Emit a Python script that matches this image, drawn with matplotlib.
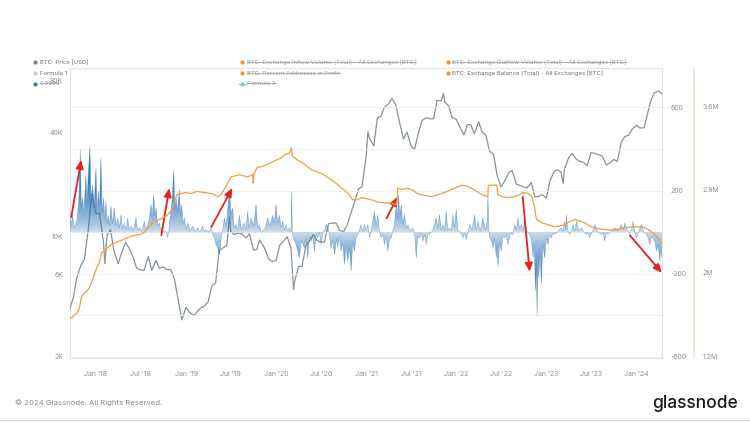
import numpy as np
import pandas as pd
import matplotlib
matplotlib.use("Agg")
import matplotlib.pyplot as plt
from matplotlib.path import Path
from matplotlib.patches import PathPatch
from matplotlib.lines import Line2D

plt.rcParams['font.family'] = ['Inter', 'DejaVu Sans']

# ---------------- data ----------------
price_dates = [
    "2017-09-15", "2017-10-01", "2017-10-15", "2017-11-01", "2017-11-15", "2017-12-01", "2017-12-15",
    "2018-01-01", "2018-01-15", "2018-02-01", "2018-02-06", "2018-02-15", "2018-03-01", "2018-03-15",
    "2018-04-01", "2018-04-15", "2018-05-01", "2018-05-15", "2018-06-01", "2018-06-15", "2018-07-01",
    "2018-07-15", "2018-08-01", "2018-08-15", "2018-09-01", "2018-09-15", "2018-10-01", "2018-10-15",
    "2018-11-01", "2018-11-15", "2018-12-01", "2018-12-15",
    "2019-01-01", "2019-01-15", "2019-02-01", "2019-02-15", "2019-03-01", "2019-03-15", "2019-04-01",
    "2019-04-15", "2019-05-01", "2019-05-15", "2019-06-01", "2019-06-15", "2019-06-26", "2019-07-01",
    "2019-07-15", "2019-08-01", "2019-08-15", "2019-09-01", "2019-09-15", "2019-10-01", "2019-10-15",
    "2019-10-26", "2019-11-01", "2019-11-15", "2019-12-01", "2019-12-15",
    "2020-01-01", "2020-01-15", "2020-02-01", "2020-02-15", "2020-03-01", "2020-03-12", "2020-03-15",
    "2020-04-01", "2020-04-15", "2020-05-01", "2020-05-15", "2020-06-01", "2020-06-15", "2020-07-01",
    "2020-07-15", "2020-08-01", "2020-08-15", "2020-09-01", "2020-09-15", "2020-10-01", "2020-10-15",
    "2020-11-01", "2020-11-15", "2020-12-01", "2020-12-15",
    "2021-01-01", "2021-01-08", "2021-01-15", "2021-02-01", "2021-02-15", "2021-03-01", "2021-03-15",
    "2021-04-01", "2021-04-15", "2021-05-01", "2021-05-15", "2021-06-01", "2021-06-15", "2021-07-01",
    "2021-07-15", "2021-08-01", "2021-08-15", "2021-09-01", "2021-09-15", "2021-10-01", "2021-10-15",
    "2021-11-01", "2021-11-10", "2021-11-15", "2021-12-01", "2021-12-15",
    "2022-01-01", "2022-01-15", "2022-02-01", "2022-02-15", "2022-03-01", "2022-03-15", "2022-04-01",
    "2022-04-15", "2022-05-01", "2022-05-15", "2022-06-01", "2022-06-15", "2022-07-01", "2022-07-15",
    "2022-08-01", "2022-08-15", "2022-09-01", "2022-09-15", "2022-10-01", "2022-10-15", "2022-11-01",
    "2022-11-15", "2022-12-01", "2022-12-15",
    "2023-01-01", "2023-01-15", "2023-02-01", "2023-02-15", "2023-03-01", "2023-03-10", "2023-03-15",
    "2023-04-01", "2023-04-15", "2023-05-01", "2023-05-15", "2023-06-01", "2023-06-15", "2023-07-01",
    "2023-07-15", "2023-08-01", "2023-08-15", "2023-09-01", "2023-09-15", "2023-10-01", "2023-10-15",
    "2023-11-01", "2023-11-15", "2023-12-01", "2023-12-15",
    "2024-01-01", "2024-01-15", "2024-02-01", "2024-02-15", "2024-03-01", "2024-03-15", "2024-04-01",
    "2024-04-12",
]
price_usd = [
    3700, 4350, 5700, 6750, 7300, 10900, 17700,
    13500, 13600, 9100, 6900, 10100, 10900, 8200,
    6900, 8000, 9200, 8500, 7500, 6500, 6350,
    6300, 7600, 6300, 7200, 6500, 6600, 6400,
    6350, 5600, 4200, 3250,
    3850, 3600, 3450, 3620, 3820, 3900, 4150,
    5100, 5350, 8200, 8550, 8800, 12900, 10600,
    10200, 10400, 10300, 9750, 10300, 8300, 8350,
    9500, 9200, 8500, 7400, 7100,
    7200, 8800, 9400, 9900, 8550, 4900, 5350,
    6640, 6650, 8800, 9350, 10200, 9400, 9230,
    9200, 11800, 11900, 11900, 10800, 10600, 11500,
    13700, 15900, 18800, 19400,
    29400, 40500, 36800, 33500, 48700, 49600, 56000,
    58700, 63100, 57800, 46500, 36700, 40200, 33600,
    31800, 39900, 47000, 48800, 48100, 48200, 61500,
    61300, 67500, 60300, 57000, 48900,
    47700, 43100, 38700, 44500, 44400, 39300, 46300,
    40500, 38500, 31300, 29800, 22600, 19300, 20800,
    23300, 24100, 20100, 19700, 19300, 19100, 20500,
    16900, 17000, 17400,
    16600, 20900, 23700, 24300, 23600, 20200, 24400,
    28500, 30300, 28100, 27200, 26800, 25600, 30600,
    30300, 29700, 29200, 25900, 26600, 27900, 27100,
    35400, 37900, 38700, 42000,
    44200, 42500, 42600, 51800, 62400, 68400, 69700,
    67200,
]

# Exchange balance (decimal year, million BTC)
balance_years = [
    2017.703, 2017.740, 2017.760, 2017.790, 2017.815, 2017.840, 2017.870, 2017.905, 2017.930, 2017.970,
    2018.010, 2018.040, 2018.060, 2018.110, 2018.170, 2018.220, 2018.280, 2018.330, 2018.390, 2018.450,
    2018.500, 2018.540, 2018.590, 2018.630, 2018.680, 2018.730, 2018.790, 2018.840, 2018.870, 2018.900,
    2018.950, 2019.000, 2019.060, 2019.120, 2019.200, 2019.280, 2019.350, 2019.390, 2019.430, 2019.470,
    2019.500, 2019.550, 2019.590, 2019.640, 2019.680, 2019.740, 2019.745, 2019.755, 2019.790, 2019.850,
    2019.900, 2019.950, 2020.000, 2020.050, 2020.090, 2020.150, 2020.170, 2020.180, 2020.240, 2020.300,
    2020.390, 2020.450, 2020.530, 2020.600, 2020.650, 2020.700, 2020.760, 2020.810, 2020.850, 2020.900,
    2020.950, 2021.010, 2021.060, 2021.120, 2021.200, 2021.280, 2021.330, 2021.345, 2021.350, 2021.400,
    2021.460, 2021.520, 2021.570, 2021.650, 2021.730, 2021.800, 2021.870, 2021.950, 2022.000, 2022.060,
    2022.120, 2022.170, 2022.230, 2022.280, 2022.350, 2022.355, 2022.400, 2022.450, 2022.460, 2022.510,
    2022.570, 2022.650, 2022.700, 2022.740, 2022.800, 2022.840, 2022.870, 2022.890, 2022.950, 2023.020,
    2023.090, 2023.150, 2023.200, 2023.260, 2023.310, 2023.360, 2023.420, 2023.480, 2023.530, 2023.600,
    2023.680, 2023.750, 2023.870, 2023.950, 2024.060, 2024.120, 2024.170, 2024.230, 2024.281,
]
balance_btc_m = [
    1.565, 1.57, 1.60, 1.61, 1.66, 1.77, 1.80, 1.83, 1.86, 1.95,
    2.05, 2.10, 2.19, 2.22, 2.27, 2.29, 2.31, 2.33, 2.35, 2.36,
    2.37, 2.39, 2.44, 2.48, 2.50, 2.52, 2.55, 2.60, 2.68, 2.75,
    2.76, 2.77, 2.76, 2.78, 2.77, 2.76, 2.73, 2.75, 2.81, 2.87,
    2.92, 2.93, 2.94, 2.93, 2.92, 2.94, 2.86, 2.95, 3.01, 3.02,
    3.04, 3.06, 3.08, 3.10, 3.13, 3.15, 3.20, 3.12, 3.08, 3.05,
    2.99, 2.97, 2.94, 2.90, 2.87, 2.83, 2.79, 2.75, 2.70, 2.70,
    2.72, 2.71, 2.70, 2.68, 2.67, 2.67, 2.65, 2.70, 2.81, 2.80,
    2.81, 2.79, 2.76, 2.74, 2.73, 2.75, 2.77, 2.80, 2.82, 2.84,
    2.83, 2.81, 2.78, 2.75, 2.73, 2.84, 2.84, 2.84, 2.75, 2.73,
    2.72, 2.73, 2.75, 2.77, 2.76, 2.73, 2.62, 2.51, 2.48, 2.46,
    2.44, 2.45, 2.46, 2.49, 2.51, 2.50, 2.48, 2.45, 2.43, 2.42,
    2.41, 2.41, 2.43, 2.44, 2.44, 2.42, 2.39, 2.34, 2.28,
]

# Formula 1 (decimal year, value)
formula1_years = [
    2017.703, 2017.710, 2017.725, 2017.740, 2017.759, 2017.790, 2017.810, 2017.826, 2017.838, 2017.852,
    2017.865, 2017.889, 2017.900, 2017.918, 2017.933, 2017.945, 2017.963, 2017.980, 2018.000, 2018.013,
    2018.026, 2018.040, 2018.055, 2018.070, 2018.085, 2018.098, 2018.111, 2018.124, 2018.137, 2018.150,
    2018.167, 2018.185, 2018.204, 2018.222, 2018.241, 2018.260, 2018.278, 2018.296, 2018.315, 2018.335,
    2018.352, 2018.370, 2018.389, 2018.415, 2018.444, 2018.462, 2018.481, 2018.510, 2018.537, 2018.555,
    2018.574, 2018.592, 2018.611, 2018.625, 2018.641, 2018.655, 2018.667, 2018.685, 2018.704, 2018.722,
    2018.741, 2018.760, 2018.778, 2018.796, 2018.810, 2018.826, 2018.845, 2018.863, 2018.876, 2018.889,
    2018.905, 2018.926, 2018.940, 2018.952, 2018.966, 2018.981, 2019.000, 2019.018, 2019.045, 2019.074,
    2019.100, 2019.129, 2019.155, 2019.185, 2019.205, 2019.222, 2019.250, 2019.278, 2019.296, 2019.315,
    2019.333, 2019.352, 2019.370, 2019.390, 2019.410, 2019.425, 2019.445, 2019.465, 2019.481, 2019.500,
    2019.518, 2019.535, 2019.555, 2019.575, 2019.592, 2019.615, 2019.647, 2019.665, 2019.684, 2019.700,
    2019.721, 2019.750, 2019.777, 2019.795, 2019.814, 2019.832, 2019.851, 2019.880, 2019.907, 2019.930,
    2019.962, 2019.980, 2019.999, 2020.018, 2020.036, 2020.055, 2020.073, 2020.092, 2020.110, 2020.130,
    2020.147, 2020.165, 2020.173, 2020.180, 2020.200, 2020.221, 2020.240, 2020.258, 2020.280, 2020.314,
    2020.335, 2020.351, 2020.370, 2020.388, 2020.405, 2020.425, 2020.445, 2020.462, 2020.480, 2020.499,
    2020.520, 2020.536, 2020.555, 2020.573, 2020.590, 2020.610, 2020.629, 2020.650, 2020.670, 2020.684,
    2020.700, 2020.721, 2020.740, 2020.758, 2020.776, 2020.795, 2020.815, 2020.832, 2020.850, 2020.869,
    2020.890, 2020.907, 2020.925, 2020.944, 2020.960, 2020.981, 2021.000, 2021.018, 2021.037, 2021.060,
    2021.092, 2021.110, 2021.129, 2021.148, 2021.166, 2021.185, 2021.203, 2021.220, 2021.240, 2021.258,
    2021.277, 2021.295, 2021.314, 2021.333, 2021.345, 2021.359, 2021.372, 2021.388, 2021.405, 2021.425,
    2021.443, 2021.462, 2021.490, 2021.518, 2021.540, 2021.555, 2021.570, 2021.592, 2021.610, 2021.629,
    2021.648, 2021.666, 2021.685, 2021.703, 2021.740, 2021.777, 2021.795, 2021.814, 2021.832, 2021.851,
    2021.870, 2021.888, 2021.905, 2021.925, 2021.943, 2021.962, 2021.980, 2021.999, 2022.018, 2022.037,
    2022.055, 2022.074, 2022.092, 2022.111, 2022.130, 2022.148, 2022.175, 2022.203, 2022.220, 2022.240,
    2022.265, 2022.296, 2022.325, 2022.345, 2022.351, 2022.360, 2022.370, 2022.390, 2022.407, 2022.425,
    2022.444, 2022.455, 2022.462, 2022.480, 2022.499, 2022.518, 2022.536, 2022.555, 2022.573, 2022.600,
    2022.629, 2022.648, 2022.666, 2022.685, 2022.703, 2022.722, 2022.740, 2022.759, 2022.780, 2022.815,
    2022.835, 2022.852, 2022.865, 2022.878, 2022.890, 2022.896, 2022.905, 2022.915, 2022.930, 2022.944,
    2022.960, 2022.981, 2023.000, 2023.018, 2023.036, 2023.055, 2023.075, 2023.092, 2023.130, 2023.166,
    2023.185, 2023.204, 2023.212, 2023.222, 2023.240, 2023.259, 2023.278, 2023.296, 2023.315, 2023.333,
    2023.360, 2023.389, 2023.415, 2023.444, 2023.462, 2023.481, 2023.510, 2023.537, 2023.575, 2023.611,
    2023.630, 2023.648, 2023.665, 2023.685, 2023.720, 2023.759, 2023.795, 2023.833, 2023.850, 2023.870,
    2023.900, 2023.926, 2023.945, 2023.963, 2023.980, 2024.000, 2024.025, 2024.055, 2024.080, 2024.111,
    2024.130, 2024.148, 2024.165, 2024.185, 2024.205, 2024.222, 2024.240, 2024.259, 2024.270, 2024.281,
]
formula1_vals = [
    0, 82, 30, 82, 20, 60, 150, 394, 120, 165,
    80, 275, 140, 300, 413, 150, 228, 120, 307, 100,
    197, 120, 355, 90, 165, 60, 149, 40, 82, 30,
    125, 40, 117, 30, 69, 20, 82, 15, 45, 10,
    69, 10, 29, 5, 69, 10, 21, 5, 53, 10,
    37, 60, 133, 70, 181, 80, 117, 30, 45, 10,
    13, 0, 5, -27, 10, 82, 150, 301, 120, 165,
    100, 205, 80, 133, 40, 69, 15, 45, 5, 29,
    5, 21, 0, 29, 0, 13, 0, 21, -10, -27,
    -60, -75, -107, -30, 20, 69, 30, 120, 197, 90,
    117, 20, 37, 10, 82, 10, 45, 10, 101, 20,
    69, 30, 133, 20, 37, 0, 5, 20, 69, 30,
    82, 40, 133, 40, 82, 20, 53, 10, 37, 5,
    21, 0, 197, -10, -40, -59, -91, -123, -40, -75,
    -30, -123, -20, -43, -20, -91, -10, -27, 0, -59,
    0, 5, 37, 30, -10, -75, -40, -107, -30, -75,
    -20, -91, -50, -155, -60, -139, -70, -187, -50, -91,
    -20, -11, 10, 37, 5, 37, 10, 37, -27, 20,
    101, 30, 85, 0, -27, -10, -59, -20, -91, -30,
    -27, 5, 37, 133, 60, 181, 70, 133, 40, 85,
    20, 37, 5, 21, -20, -123, -20, -27, -5, -43,
    -10, -59, -5, -11, 10, 69, 20, 85, 10, 37,
    10, 101, 10, 21, 5, 85, 20, 109, 10, 5,
    -10, -27, -5, -35, 0, 37, 10, 85, 10, 53,
    5, 69, 10, 60, 181, 20, -27, -40, -75, -30,
    -123, -60, -163, -50, -91, -20, -27, -10, -59, -5,
    -11, 37, 10, 69, 15, 37, 10, 60, 5, -11,
    -40, -123, -60, -283, -150, -403, -120, -219, -90, -251,
    -60, -123, -30, -59, -10, -27, -5, -11, 5, 21,
    5, 53, 10, 85, 5, -11, 10, 37, 5, 53,
    5, 21, 0, -11, 0, -27, 5, 37, 0, -11,
    0, -43, 0, -11, 5, 21, 5, 37, 10, 45,
    5, -5, 15, 53, 0, -27, 5, 37, 0, -11,
    -30, -59, -20, -27, -50, -91, -60, -139, -80, -120,
]

# annotation arrows: (start year, start price, tip year, tip price)
arrows = [
    (2017.726, 12900, 2017.837, 27700),
    (2018.726, 10100, 2018.814, 19000),
    (2019.281, 11300, 2019.514, 19000),
    (2021.226, 12700, 2021.348, 16900),
    (2022.737, 16900, 2022.814, 6200),
    (2023.926, 10100, 2024.281, 6100),
]

x_ticks = [2018.0, 2018.496, 2019.0, 2019.496, 2020.0, 2020.496, 2021.0, 2021.496,
           2022.0, 2022.496, 2023.0, 2023.496, 2024.0]
x_tick_labels = ["Jan '18", "Jul '18", "Jan '19", "Jul '19", "Jan '20", "Jul '20", "Jan '21",
                 "Jul '21", "Jan '22", "Jul '22", "Jan '23", "Jul '23", "Jan '24"]
price_ticks = [2000, 6000, 10000, 40000, 80000]
price_tick_labels = ["2K", "6K", "10K", "40K", "80K"]
f1_ticks = [-600, -400, -200, 0, 200, 400, 600]
f1_tick_labels = ["-600", "", "-200", "", "200", "", "600"]
bal_ticks = [1.2, 2.0, 2.8, 3.6]
bal_tick_labels = ["1.2M", "2M", "2.8M", "3.6M"]

legend_items = [
    # (col, row, label, dot color, struck)
    (0, 0, "BTC: Price [USD]", "#7d878b", False),
    (1, 0, "BTC: Exchange Inflow Volume (Total) \u2013 All Exchanges [BTC]", "#ef9630", True),
    (2, 0, "BTC: Exchange Outflow Volume (Total) \u2013 All Exchanges [BTC]", "#ef9630", True),
    (0, 1, "Formula 1", "#b9d0e6", False),
    (1, 1, "BTC: Percent Addresses in Profit", "#ef9630", True),
    (2, 1, "BTC: Exchange Balance (Total) - All Exchanges [BTC]", "#ef9630", False),
    (0, 2, "0.9995", "#3d6fd6", True),
    (1, 2, "Formula 3", "#6fd6c6", True),
]

# ---------------- figure ----------------
W, H = 750, 422
fig = plt.figure(figsize=(W / 100, H / 100), dpi=100)
fig.patch.set_facecolor("white")

def fx(px):
    return px / W

def fy(py):
    return 1 - py / H

ax = fig.add_axes([fx(70), fy(358), fx(662) - fx(70), fy(68) - fy(358)])
ax2 = ax.twinx()
ax3 = ax.twinx()

tick_color = "#8f8f8f"
fs_tick = 5.0
XLIM = (2017.712, 2024.283)

# price axis
px_years = [pd.Timestamp(d).year + (pd.Timestamp(d).dayofyear - 1) /
            (366 if pd.Timestamp(d).is_leap_year else 365) for d in price_dates]
ax.plot(px_years, price_usd, color="#86939a", lw=0.9, zorder=3)
ax.set_yscale("log")
ax.set_ylim(1950, 95000)
ax.set_xlim(*XLIM)
ax.set_yticks(price_ticks)
ax.set_yticklabels(price_tick_labels)
ax.yaxis.set_minor_locator(matplotlib.ticker.NullLocator())
ax.set_xticks(x_ticks)
ax.set_xticklabels(x_tick_labels)
ax.tick_params(axis="y", length=0, pad=5, labelsize=fs_tick, labelcolor=tick_color)
ax.tick_params(axis="x", length=0, pad=9, labelsize=fs_tick, labelcolor=tick_color)
for s in ax.spines.values():
    s.set_color("#e2e4e6")
    s.set_linewidth(0.8)

# formula 1 axis
ax2.set_ylim(-605, 790)
ax2.set_yticks(f1_ticks)
ax2.set_yticklabels(f1_tick_labels)
ax2.tick_params(axis="y", length=0, pad=6, labelsize=fs_tick, labelcolor=tick_color)
ax2.yaxis.grid(True, color="#eeeeee", lw=0.6)
ax2.set_axisbelow(True)
for s in ax2.spines.values():
    s.set_visible(False)

fx_arr = np.array(formula1_years)
fv_arr = np.array(formula1_vals, dtype=float)
verts = [(fx_arr[0], 0.0)] + list(zip(fx_arr, fv_arr)) + [(fx_arr[-1], 0.0), (fx_arr[0], 0.0)]
codes = [Path.MOVETO] + [Path.LINETO] * (len(verts) - 2) + [Path.CLOSEPOLY]
clip_patch = PathPatch(Path(verts, codes), facecolor="none", edgecolor="none", transform=ax2.transData)
ax2.add_patch(clip_patch)
ys = np.linspace(-605, 790, 600)
a = 0.22 + 0.76 * np.clip(np.abs(ys) / 260.0, 0, 1) ** 0.75
img = np.zeros((len(ys), 1, 4))
img[..., 0] = 0.17
img[..., 1] = 0.45
img[..., 2] = 0.72
img[..., 3] = a[:, None]
im = ax2.imshow(img, extent=[fx_arr[0], fx_arr[-1], -605, 790], origin="lower",
                aspect="auto", interpolation="bilinear", zorder=2)
im.set_clip_path(clip_patch)
ax2.plot(fx_arr, fv_arr, color="#3a7fbd", lw=0.4, alpha=0.55, zorder=2)
ax2.set_xlim(*XLIM)

# balance axis
ax3.plot(balance_years, balance_btc_m, color="#f0a040", lw=0.9, zorder=4)
ax3.set_ylim(1.181, 3.965)
ax3.set_yticks(bal_ticks)
ax3.set_yticklabels(bal_tick_labels)
ax3.tick_params(axis="y", length=0, pad=6.5, labelsize=fs_tick, labelcolor=tick_color)
for k, s in ax3.spines.items():
    s.set_visible(False)
ax3.spines["right"].set_visible(True)
ax3.spines["right"].set_position(("outward", 23))
ax3.spines["right"].set_color("#f3e4d4")
ax3.spines["right"].set_linewidth(1.2)
ax3.set_xlim(*XLIM)

# red arrows
for (x0, y0, x1, y1) in arrows:
    ax3.annotate("", xy=(x1, y1), xytext=(x0, y0), xycoords=ax.transData,
                 textcoords=ax.transData,
                 arrowprops=dict(arrowstyle="-|>,head_length=0.5,head_width=0.22",
                                 color="#e3231c", lw=1.3, shrinkA=0, shrinkB=0),
                 annotation_clip=False)

# ---------------- legend ----------------
col_x = [35, 242.5, 447.5]
row_y = [62.3, 73.3, 83.6]
fs_leg = 4.3
texts = []
for col, row, label, color, struck in legend_items:
    dx, dy = col_x[col], row_y[row]
    if label == "Formula 3":
        fig.add_artist(Line2D([fx(dx - 3.5), fx(dx + 3.5)], [fy(dy), fy(dy)],
                              transform=fig.transFigure, color=color, lw=0.8))
    fig.add_artist(Line2D([fx(dx)], [fy(dy)], transform=fig.transFigure, marker="o",
                          markersize=3.0, color=color, markeredgewidth=0, linestyle="none"))
    t = fig.text(fx(dx + 4.8), fy(dy), label, fontsize=fs_leg,
                 color="#9a9a9a" if struck else "#6e6e6e", va="center", ha="left")
    texts.append((t, struck))

fig.canvas.draw()
renderer = fig.canvas.get_renderer()
inv = fig.transFigure.inverted()
for t, struck in texts:
    if not struck:
        continue
    bb = t.get_window_extent(renderer=renderer)
    yc = bb.y0 + bb.height * 0.55
    (x0, y0), (x1, _) = inv.transform([(bb.x0, yc), (bb.x1, yc)])
    fig.add_artist(Line2D([x0, x1], [y0, y0], transform=fig.transFigure,
                          color="#9a9a9a", lw=0.5))

# ---------------- footer ----------------
fig.text(fx(15), fy(403), "\u00a9 2024 Glassnode. All Rights Reserved.", fontsize=5.6,
         color="#8c8c8c", va="center", ha="left")
fig.text(fx(738), fy(404), "glassnode", fontsize=12.5, color="#1c1c1c", va="center",
         ha="right", fontweight="medium")
fig.add_artist(Line2D([0, 1], [fy(419.5), fy(419.5)], transform=fig.transFigure,
                      color="#d6d6d6", lw=1.0))

fig.savefig("out.png", dpi=100, facecolor="white")
